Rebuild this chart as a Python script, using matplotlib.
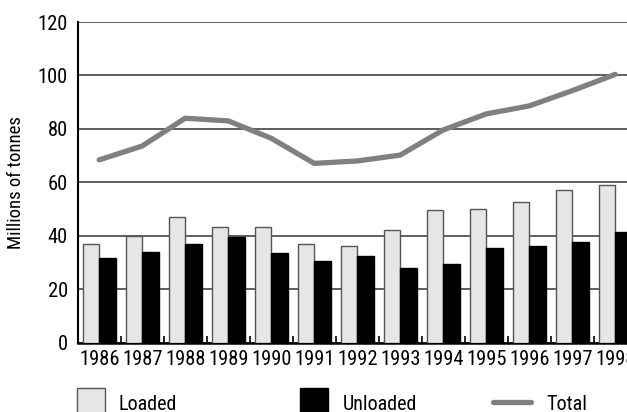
import matplotlib
matplotlib.use("Agg")
import matplotlib.pyplot as plt
from matplotlib import font_manager
from matplotlib.patches import Rectangle
from matplotlib.lines import Line2D
import numpy as np

years = ["1986", "1987", "1988", "1989", "1990", "1991", "1992",
         "1993", "1994", "1995", "1996", "1997", "1998"]
loaded = [36.9, 39.9, 47.1, 43.4, 43.2, 36.9, 36.1, 42.3, 49.7, 50.0, 52.5, 57.0, 59.0]
unloaded = [31.6, 33.8, 37.0, 39.7, 33.4, 30.4, 32.3, 28.1, 29.6, 35.5, 36.3, 37.7, 41.4]
total = [68.4, 73.6, 84.0, 83.0, 76.5, 67.1, 68.0, 70.2, 79.6, 85.6, 88.6, 94.3, 100.4]
yticks = [0, 20, 40, 60, 80, 100, 120]

installed = {f.name for f in font_manager.fontManager.ttflist}
family = next((f for f in ("Roboto Condensed", "PT Sans Narrow", "Open Sans Condensed")
               if f in installed), "DejaVu Sans")
plt.rcParams["font.family"] = [family, "DejaVu Sans"]
FS = 14.8

W, H = 627, 412
fig = plt.figure(figsize=(W / 100, H / 100), dpi=100)
ax = fig.add_axes([77.7 / W, (H - 342.7) / H, 559 / W, 320.7 / H])

x = np.arange(len(years))
bw = 0.38
ax.bar(x - bw / 2, loaded, width=bw, color="#e6e6e6", edgecolor="#555555",
       linewidth=1.0, zorder=3)
ax.bar(x + bw / 2, unloaded, width=bw, color="#000000", edgecolor="#000000",
       linewidth=1.0, zorder=3)
ax.plot(x, total, color="#808080", linewidth=3.8, solid_capstyle="round",
        solid_joinstyle="round", zorder=4)

ax.set_xlim(-0.5, len(years) - 0.5)
ax.set_ylim(0, 120)
ax.set_yticks(yticks)
ax.set_xticks(x)
ax.set_xticklabels(years)
ax.set_xticks(x[:-1] + 0.5, minor=True)
ax.tick_params(axis="x", which="major", length=0, pad=5, labelsize=FS)
ax.tick_params(axis="x", which="minor", direction="in", length=5, width=1.2,
               color="#000000")
ax.tick_params(axis="y", length=0, pad=7, labelsize=FS)
ax.yaxis.grid(True, color="#333333", linewidth=1.1, zorder=0)
ax.set_axisbelow(True)
for s in ("top", "right"):
    ax.spines[s].set_visible(False)
ax.spines["left"].set_linewidth(1.5)
ax.spines["bottom"].set_linewidth(1.8)
ax.set_ylabel("Millions of tonnes", fontsize=13.5, labelpad=9)

# legend row along the bottom edge
def px(xp, yp):
    return xp / W, 1 - yp / H

x0, y0 = px(77, 414)
fig.add_artist(Rectangle((x0, y0), 28 / W, 26 / H, transform=fig.transFigure,
                         facecolor="#e6e6e6", edgecolor="#555555", linewidth=1.0))
x0, y0 = px(300, 414)
fig.add_artist(Rectangle((x0, y0), 28 / W, 26 / H, transform=fig.transFigure,
                         facecolor="#000000", edgecolor="#000000", linewidth=1.0))
fig.add_artist(Line2D([493 / W, 531 / W], [1 - 402 / H] * 2, transform=fig.transFigure,
                      color="#808080", linewidth=3.8, solid_capstyle="round"))
for label, xp in (("Loaded", 119), ("Unloaded", 343), ("Total", 546)):
    tx, ty = px(xp, 410)
    fig.text(tx, ty, label, fontsize=14.5, ha="left", va="baseline")

fig.savefig("out.png", dpi=100)
